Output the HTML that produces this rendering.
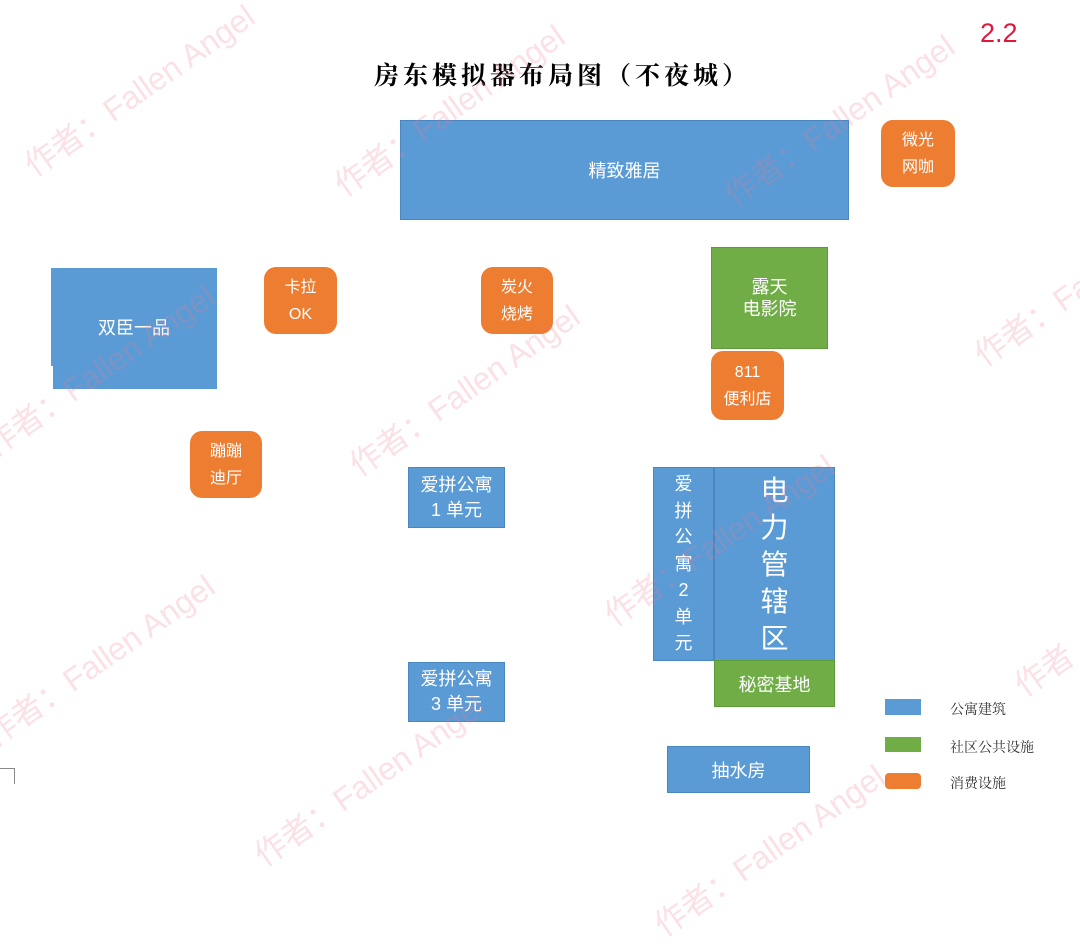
<!DOCTYPE html>
<html><head><meta charset="utf-8"><style>
html,body{margin:0;padding:0;background:#fff;}
body{width:1080px;height:917px;position:relative;overflow:hidden;font-family:"Liberation Sans","Noto Sans CJK SC",sans-serif;}
.b{position:absolute;color:#fff;display:flex;align-items:center;justify-content:center;text-align:center;box-sizing:border-box;}
.bl{background:#5b9bd5;border:1px solid #4a86c0;}
.gr{background:#70ad47;border:1px solid #5f9a3a;}
.or{background:#ed7d31;border-radius:12px;font-size:16px;line-height:27px;}
.wm{position:absolute;color:rgba(235,120,140,0.22);font-size:32px;white-space:nowrap;transform:rotate(-35deg);transform-origin:left bottom;z-index:5;}
.lg{position:absolute;font-size:14px;color:#333;font-family:"Noto Serif CJK SC","Liberation Serif",serif;}
</style></head><body>
<div style="position:absolute;left:374px;top:56px;font-size:25px;letter-spacing:4px;font-weight:bold;font-family:'Noto Serif CJK SC',serif;color:#000;">房东模拟器布局图（不夜城）</div>
<div style="position:absolute;left:980px;top:18px;font-size:27px;color:#e0183c;">2.2</div>

<div class="b bl" style="left:400px;top:120px;width:449px;height:100px;font-size:18px;">精致雅居</div>
<div class="b or" style="left:881px;top:120px;width:74px;height:67px;">微光<br>网咖</div>
<div class="b bl" style="left:51px;top:268px;width:166px;height:98px;font-size:18px;border:none;padding-top:20px;">双臣一品</div>
<div class="b bl" style="left:53px;top:366px;width:164px;height:23px;border:none;"></div>
<div class="b or" style="left:264px;top:267px;width:73px;height:67px;">卡拉<br>OK</div>
<div class="b or" style="left:481px;top:267px;width:72px;height:67px;">炭火<br>烧烤</div>
<div class="b gr" style="left:711px;top:247px;width:117px;height:102px;font-size:18px;line-height:22px;">露天<br>电影院</div>
<div class="b or" style="left:711px;top:351px;width:73px;height:69px;">811<br>便利店</div>
<div class="b or" style="left:190px;top:431px;width:72px;height:67px;">蹦蹦<br>迪厅</div>
<div class="b bl" style="left:408px;top:467px;width:97px;height:61px;font-size:18px;line-height:25px;">爱拼公寓<br>1 单元</div>
<div class="b bl" style="left:653px;top:467px;width:61px;height:194px;font-size:18px;line-height:26.5px;">爱<br>拼<br>公<br>寓<br>2<br>单<br>元</div>
<div class="b bl" style="left:714px;top:467px;width:121px;height:194px;font-size:28px;line-height:37px;">电<br>力<br>管<br>辖<br>区</div>
<div class="b gr" style="left:714px;top:660px;width:121px;height:47px;font-size:18px;">秘密基地</div>
<div class="b bl" style="left:408px;top:662px;width:97px;height:60px;font-size:18px;line-height:25px;">爱拼公寓<br>3 单元</div>
<div class="b bl" style="left:667px;top:746px;width:143px;height:47px;font-size:18px;">抽水房</div>

<div style="position:absolute;left:885px;top:699px;width:36px;height:16px;background:#5b9bd5;"></div>
<div style="position:absolute;left:885px;top:737px;width:36px;height:15px;background:#70ad47;"></div>
<div style="position:absolute;left:885px;top:773px;width:36px;height:16px;background:#ed7d31;border-radius:4px;"></div>
<div class="lg" style="left:950px;top:699px;">公寓建筑</div>
<div class="lg" style="left:950px;top:737px;">社区公共设施</div>
<div class="lg" style="left:950px;top:773px;">消费设施</div>
<div style="position:absolute;left:0;top:768px;width:14px;height:15px;border-top:1px solid #888;border-right:1px solid #888;"></div>

<div class="wm" style="left:40px;top:140px;">作者：Fallen Angel</div>
<div class="wm" style="left:350px;top:160px;">作者：Fallen Angel</div>
<div class="wm" style="left:740px;top:170px;">作者：Fallen Angel</div>
<div class="wm" style="left:0px;top:420px;">作者：Fallen Angel</div>
<div class="wm" style="left:365px;top:440px;">作者：Fallen Angel</div>
<div class="wm" style="left:990px;top:330px;">作者：Fallen</div>
<div class="wm" style="left:620px;top:590px;">作者：Fallen Angel</div>
<div class="wm" style="left:0px;top:710px;">作者：Fallen Angel</div>
<div class="wm" style="left:270px;top:830px;">作者：Fallen Angel</div>
<div class="wm" style="left:1030px;top:660px;">作者</div>
<div class="wm" style="left:670px;top:900px;">作者：Fallen Angel</div>
</body></html>
